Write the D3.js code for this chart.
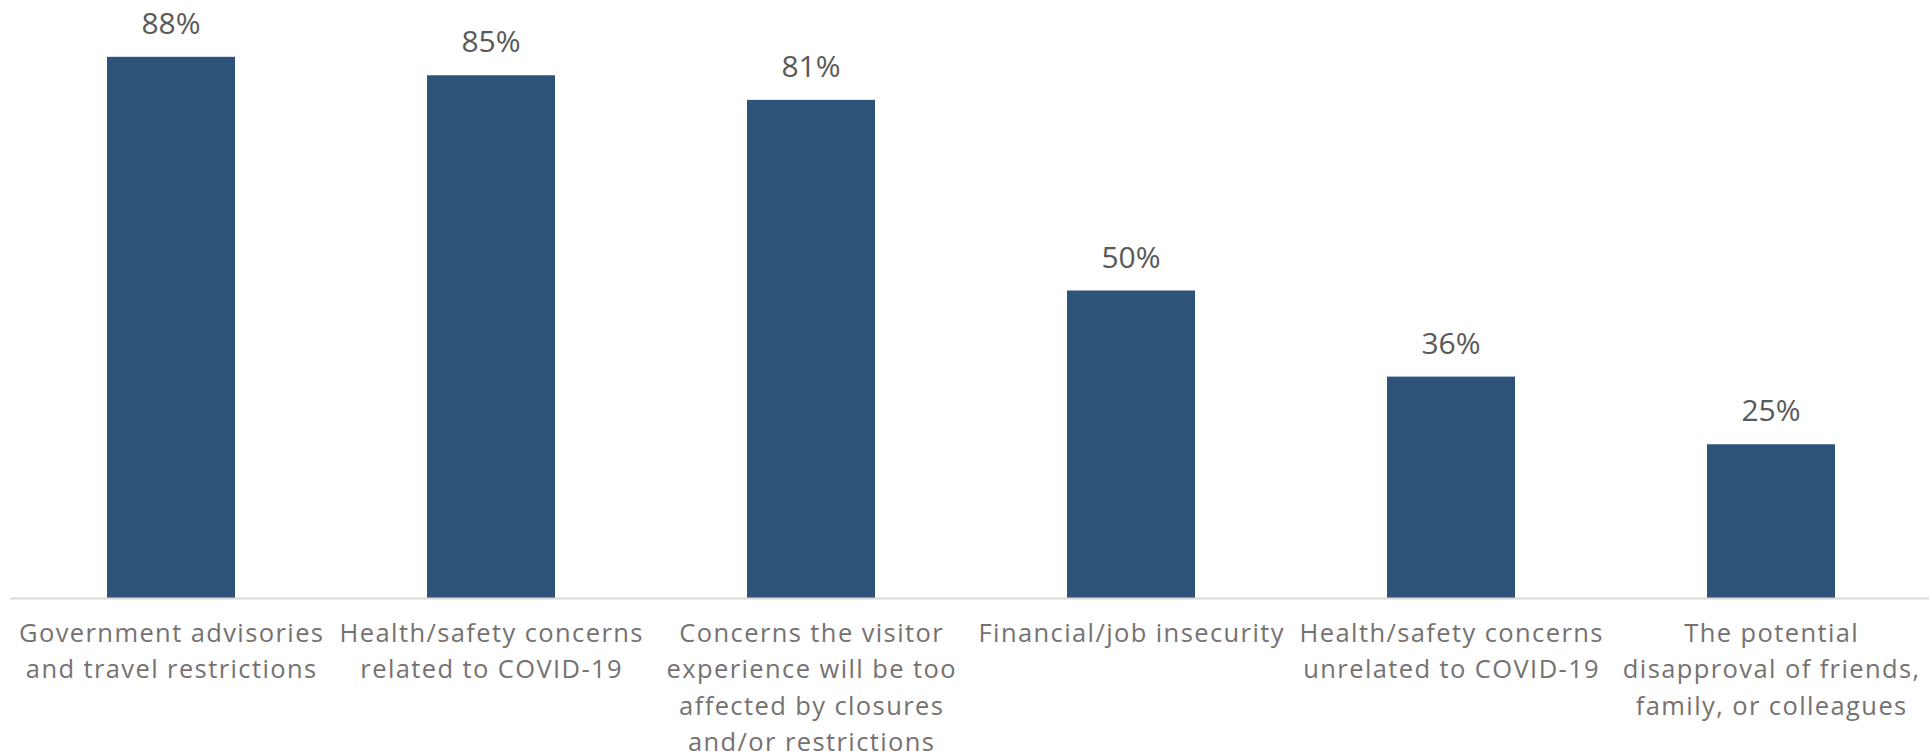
<!DOCTYPE html>
<html>
<head>
<meta charset="utf-8">
<script src="https://cdn.jsdelivr.net/npm/d3@7"></script>
<style>
  body { margin: 0; background: #fff; }
  svg { display: block; }
  .value-label { font-family: "Open Sans", sans-serif; font-size: 30px; fill: #595959; }
  .cat-label { font-family: "Open Sans", sans-serif; font-size: 25.5px; fill: #767171; letter-spacing: 1.4px; }
</style>
</head>
<body>
<div id="plot"></div>
<script>
const width = 1929;
const height = 755;

// categories, wrapped the way the original shows them
const categories = [
  "Government advisories",
  "Health/safety concerns (related)",
  "Concerns the visitor experience",
  "Financial/job insecurity",
  "Health/safety concerns (unrelated)",
  "The potential disapproval"
];
const labelLines = [
  ["Government advisories", "and travel restrictions"],
  ["Health/safety concerns", "related to COVID-19"],
  ["Concerns the visitor", "experience will be too", "affected by closures", "and/or restrictions"],
  ["Financial/job insecurity"],
  ["Health/safety concerns", "unrelated to COVID-19"],
  ["The potential", "disapproval of friends,", "family, or colleagues"]
];
const values = [88, 85, 81, 50, 36, 25];

const baseline = 598;

const svg = d3.select("#plot")
  .append("svg")
  .attr("width", width)
  .attr("height", height);

const x = d3.scaleBand()
  .domain(categories)
  .range([11, 1931])
  .paddingInner(0.6)
  .paddingOuter(0.3);

const y = d3.scaleLinear()
  .domain([0, 100])
  .range([baseline, baseline - 615]);

// bars
svg.selectAll(".bar")
  .data(values)
  .enter()
  .append("rect")
  .attr("class", "bar")
  .attr("x", (d, i) => x(categories[i]))
  .attr("width", x.bandwidth())
  .attr("y", d => y(d))
  .attr("height", d => y(0) - y(d))
  .attr("fill", "#2d5378");

// axis line
svg.append("line")
  .attr("x1", 10)
  .attr("x2", width)
  .attr("y1", y(0) + 0.5)
  .attr("y2", y(0) + 0.5)
  .attr("stroke", "#d9d9d9")
  .attr("stroke-width", 2);

// value labels
svg.selectAll(".value-label")
  .data(values)
  .enter()
  .append("text")
  .attr("class", "value-label")
  .attr("x", (d, i) => x(categories[i]) + x.bandwidth() / 2)
  .attr("y", d => y(d) - 23)
  .attr("text-anchor", "middle")
  .text(d => d + "%");

// category labels
const catG = svg.selectAll(".cat")
  .data(labelLines)
  .enter()
  .append("text")
  .attr("class", "cat-label")
  .attr("text-anchor", "middle")
  .attr("transform", (d, i) => `translate(${x(categories[i]) + x.bandwidth() / 2 + 0.7},642)`);

catG.selectAll("tspan")
  .data(d => d)
  .enter()
  .append("tspan")
  .attr("x", 0)
  .attr("y", (d, j) => j * 36.4)
  .text(d => d);
</script>
</body>
</html>
